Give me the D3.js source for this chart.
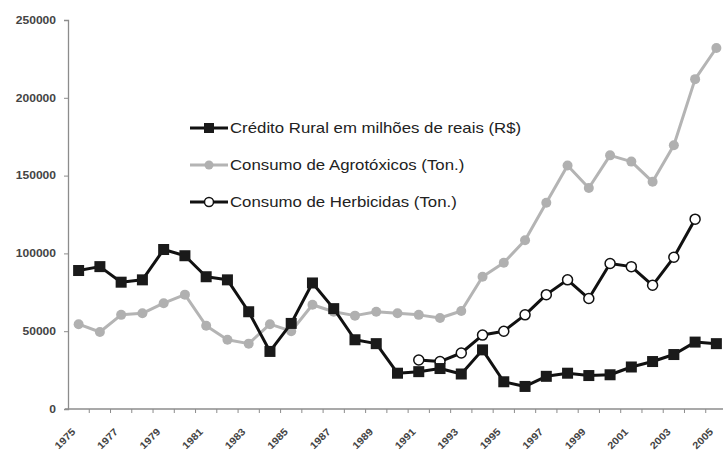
<!DOCTYPE html>
<html>
<head>
<meta charset="utf-8">
<script src="https://cdn.jsdelivr.net/npm/d3@7"></script>
<style>
  html, body { margin: 0; padding: 0; background: #fff; overflow: hidden; }
  svg { display: block; }
  text { font-family: "Liberation Sans", Arial, sans-serif; fill: #333; }
</style>
</head>
<body>
<svg id="chart" width="723" height="454"></svg>
<script>
// Anos da série
const years = d3.range(1975, 2006);

// Crédito rural em milhões de reais (R$)
const credito = [89000, 91500, 81500, 83000, 102500, 98500, 85000, 83000, 62500, 37000,
  55000, 81000, 64500, 44500, 42000, 23000, 24000, 26000, 22500, 38000,
  17500, 14500, 21000, 23000, 21500, 22000, 27000, 30500, 35000, 43000, 42000];

// Consumo de agrotóxicos (toneladas)
const agrotoxicos = [54500, 49500, 60500, 61500, 68000, 73500, 53500, 44500, 42000, 54500,
  50000, 67000, 62500, 60000, 62500, 61500, 60500, 58500, 63000, 85000,
  94000, 108500, 132500, 156500, 142000, 163000, 159000, 146000, 169500, 212000, 232000];

// Consumo de herbicidas (toneladas), disponível a partir de 1991
const herbicidas = [null, null, null, null, null, null, null, null, null, null,
  null, null, null, null, null, null, 31500, 30500, 36000, 47500,
  50000, 60500, 73500, 83000, 71000, 93500, 91500, 79500, 97500, 122000, null];

const yTicks = [0, 50000, 100000, 150000, 200000, 250000];
const xLabelYears = d3.range(1975, 2006, 2);

const seriesNames = [
  "Crédito Rural em milhões de reais (R$)",
  "Consumo de Agrotóxicos (Ton.)",
  "Consumo de Herbicidas (Ton.)"
];

const svg = d3.select("#chart");
const axisColor = "#8c8c8c";

const x = d3.scaleBand().domain(years).range([68, 727]);
const y = d3.scaleLinear().domain([0, 250000]).range([409, 20]);
const cx = d => x(d) + x.bandwidth() / 2;

// Eixo Y
const yAxis = svg.append("g").attr("transform", `translate(${x.range()[0]},0)`)
  .call(d3.axisLeft(y).tickValues(yTicks).tickSize(4).tickPadding(7).tickFormat(d3.format("d")));
yAxis.select(".domain").attr("stroke", axisColor).attr("stroke-width", 1.3);
yAxis.selectAll(".tick line").attr("stroke", axisColor);
yAxis.selectAll(".tick text")
  .attr("x", null)
  .attr("transform", "translate(-12,0) scale(1.15,1)")
  .style("font-size", "10.5px").style("font-weight", "bold").style("fill", "#444");

// Eixo X (marcas entre as categorias)
const xAxis = svg.append("g").attr("transform", `translate(0,${y(0)})`);
xAxis.append("line")
  .attr("x1", x.range()[0] - 3).attr("x2", x.range()[1])
  .attr("stroke", axisColor).attr("stroke-width", 1.3);
xAxis.selectAll("line.tk").data(years.slice(1)).join("line").attr("class", "tk")
  .attr("x1", d => x(d)).attr("x2", d => x(d))
  .attr("y1", 0).attr("y2", 4).attr("stroke", axisColor);
xAxis.selectAll("text").data(xLabelYears).join("text")
  .attr("text-anchor", "end")
  .attr("transform", d => `translate(${cx(d) - 5},${21}) rotate(-45) scale(1.1,1)`)
  .attr("dy", "0.35em")
  .style("font-size", "10px").style("font-weight", "bold").style("fill", "#444")
  .text(d => d);

const line = vals => d3.line()
  .defined((d, i) => vals[i] != null)
  .x((d, i) => cx(years[i]))
  .y((d, i) => y(vals[i]))(vals);

// Agrotóxicos: linha cinza com círculos cinza
svg.append("path").attr("d", line(agrotoxicos))
  .attr("fill", "none").attr("stroke", "#b4b4b4").attr("stroke-width", 3).attr("stroke-linejoin", "round");
svg.append("g").selectAll("circle").data(years).join("circle")
  .attr("cx", d => cx(d)).attr("cy", (d, i) => y(agrotoxicos[i])).attr("r", 5)
  .attr("fill", "#b0b0b0");

// Herbicidas: linha preta com círculos brancos
svg.append("path").attr("d", line(herbicidas))
  .attr("fill", "none").attr("stroke", "#111").attr("stroke-width", 3).attr("stroke-linejoin", "round");
svg.append("g").selectAll("circle").data(years.filter((d, i) => herbicidas[i] != null)).join("circle")
  .attr("cx", d => cx(d)).attr("cy", d => y(herbicidas[years.indexOf(d)])).attr("r", 5)
  .attr("fill", "#fff").attr("stroke", "#111").attr("stroke-width", 1.5);

// Crédito rural: linha preta com quadrados pretos
svg.append("path").attr("d", line(credito))
  .attr("fill", "none").attr("stroke", "#111").attr("stroke-width", 3).attr("stroke-linejoin", "round");
svg.append("g").selectAll("rect").data(years).join("rect")
  .attr("x", d => cx(d) - 5.5).attr("y", (d, i) => y(credito[i]) - 5.5)
  .attr("width", 11).attr("height", 11).attr("fill", "#1a1a1a");

// Legenda
const legend = svg.append("g").attr("transform", "translate(190,128)");
const rowH = 37;
const styles = [
  { stroke: "#111", marker: "rect", fill: "#1a1a1a" },
  { stroke: "#b4b4b4", marker: "circle", fill: "#b0b0b0" },
  { stroke: "#111", marker: "circle", fill: "#fff", mstroke: "#111" }
];
seriesNames.forEach((name, i) => {
  const g = legend.append("g").attr("transform", `translate(0,${i * rowH})`);
  g.append("line").attr("x1", 0).attr("x2", 38).attr("stroke", styles[i].stroke).attr("stroke-width", 3);
  if (styles[i].marker === "rect") {
    g.append("rect").attr("x", 14).attr("y", -5).attr("width", 10).attr("height", 10).attr("fill", styles[i].fill);
  } else {
    g.append("circle").attr("cx", 19).attr("r", 4.5).attr("fill", styles[i].fill)
      .attr("stroke", styles[i].mstroke || "none").attr("stroke-width", 1.5);
  }
  g.append("text").attr("transform", "translate(40,0) scale(1.2,1)").attr("dy", "0.36em")
    .style("font-size", "14px").style("fill", "#222").text(name);
});
</script>
</body>
</html>
